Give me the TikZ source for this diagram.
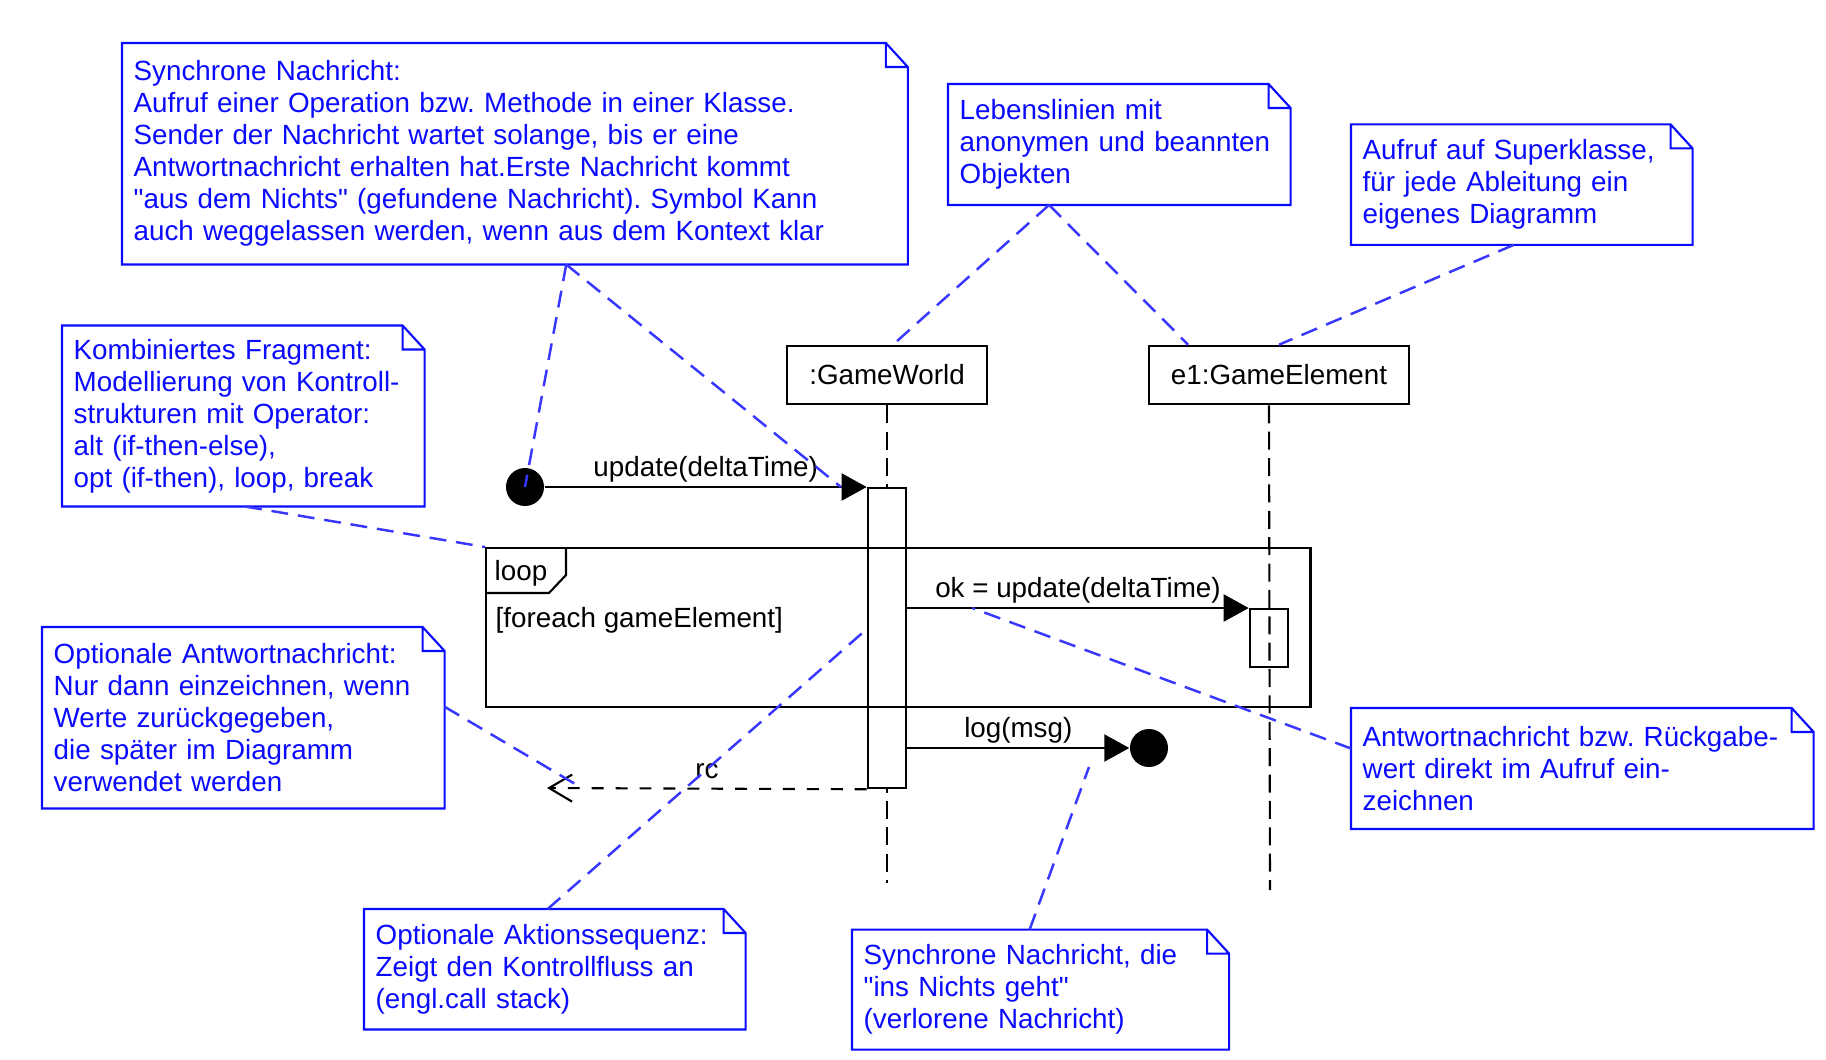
\documentclass[tikz,border=0pt]{standalone}
\usepackage{fontspec}
\setmainfont{Liberation Sans}
\usetikzlibrary{arrows.meta}
\usetikzlibrary{calc, positioning}
\frenchspacing

\definecolor{noteblue}{RGB}{10,10,255}
\definecolor{linkblue}{RGB}{55,55,255}

\begin{document}
\begin{tikzpicture}[x=0.01cm, y=-0.01cm,
    every node/.style={font=\fontsize{7.9}{9.1}\selectfont},
    note/.style={rectangle, anchor=north west, text=noteblue, align=left,
      inner xsep=0.11cm, inner ysep=0pt,
      append after command={\pgfextra{
        \draw[noteblue, line width=0.6pt]
          (\tikzlastnode.north west) -- ($(\tikzlastnode.north east)+(-22,0)$)
          -- ($(\tikzlastnode.north east)+(0,24)$) -- (\tikzlastnode.south east)
          -- (\tikzlastnode.south west) -- cycle
          ($(\tikzlastnode.north east)+(-22,0)$) |- ($(\tikzlastnode.north east)+(0,24)$);
      }}},
    obj/.style={draw, line width=0.6pt, minimum height=0.585cm, inner sep=0pt},
    act/.style={draw, fill=white, line width=0.6pt, minimum width=0.385cm, inner sep=0pt, anchor=north},
    lifeline/.style={line width=0.6pt, dash pattern=on 5.1pt off 2.4pt},
    msg/.style={line width=0.6pt, -{Triangle[length=0.25cm, width=0.27cm]}},
    reply/.style={line width=0.6pt, dash pattern=on 3.4pt off 3.4pt, -{Straight Barb[length=0.23cm, width=0.27cm]}},
    lbl/.style={above, inner sep=1pt, text height=6pt, text depth=1.7pt},
    link/.style={linkblue, line width=0.7pt, dash pattern=on 4.8pt off 2.8pt},
    dot/.style={circle, fill=black, minimum size=0.38cm, inner sep=0pt}]
  \useasboundingbox (0,0) rectangle (1826,1060);

  % objects and lifelines
  \node[obj, minimum width=1.995cm] (gw) at (887,375) {:GameWorld};
  \node[obj, minimum width=2.595cm] (e1) at (1279,375) {e1:GameElement};
  \coordinate (gwend) at (887,883);
  \coordinate (e1end) at (1270,890);

  \draw[lifeline] (gw.south) -- (gwend); % Draws a lifeline
  \node[act, minimum height=3.0cm] (gwact) at (887,487) {};
  \node[act, minimum height=0.58cm] (e1act) at (1269,608) {};
  \draw[lifeline] (e1act.north |- e1.south) -- (e1end); % Draws a lifeline

  % loop fragment
  \node[draw, line width=0.6pt, anchor=north west, minimum width=8.24cm, minimum height=1.59cm, inner sep=0pt] (loopframe) at (485,547) {};
  \draw[line width=0.6pt] ($(loopframe.north west)+(81,0)$) -- ++(0,28) -- ++(-17,18) -- ($(loopframe.north west)+(0,46)$);
  \node[anchor=west, inner sep=0pt] (looptag) at (494,573) {loop};
  \node[anchor=west, inner sep=0pt] (guard) at (495,620) {[foreach gameElement]};

  % messages
  \node[dot] (found) at (525,487) {};
  \node[dot] (lostdot) at (1149,748) {};
  \coordinate (rcend) at (547,788);

  \draw[msg] (found) -- (gwact.north west) node[lbl, midway] {update(deltaTime)} coordinate[pos=0.92] (updpt);
  \draw[msg] (gwact.east |- e1act.north) -- (e1act.north west) node[lbl, midway] {ok = update(deltaTime)} coordinate[pos=0.19] (okpt);
  \draw[msg] (gwact.east |- lostdot) -- (lostdot.west) node[lbl, midway] {log(msg)};
  \draw[reply] (gwact.south west) -- (rcend) node[lbl, midway] {rc} coordinate[pos=0.89] (rcpt);

  % notes
  \node[note, text width=7.62cm, minimum height=2.2cm] (sync) at (122,43) {Synchrone Nachricht:\\
    Aufruf einer Operation bzw. Methode in einer Klasse.\\
    Sender der Nachricht wartet solange, bis er eine\\
    Antwortnachricht erhalten hat.Erste Nachricht kommt\\
    \textquotedbl aus dem Nichts\textquotedbl{} (gefundene Nachricht). Symbol Kann\\
    auch weggelassen werden, wenn aus dem Kontext klar};
  \node[note, text width=3.39cm, minimum height=1.795cm] (frag) at (62,325.5) {Kombiniertes Fragment:\\
    Modellierung von Kontroll-\\
    strukturen mit Operator:\\
    alt (if-then-else),\\
    opt (if-then), loop, break};
  \node[note, text width=3.19cm, minimum height=1.195cm] (life) at (948,84) {Lebenslinien mit\\
    anonymen und beannten\\
    Objekten};
  \node[note, text width=3.18cm, minimum height=1.19cm] (sup) at (1351,124.4) {Aufruf auf Superklasse,\\
    für jede Ableitung ein\\
    eigenes Diagramm};
  \node[note, text width=3.79cm, minimum height=1.8cm] (opt) at (42,627) {Optionale Antwortnachricht:\\
    Nur dann einzeichnen, wenn\\
    Werte zurückgegeben,\\
    die später im Diagramm\\
    verwendet werden};
  \node[note, text width=3.58cm, minimum height=1.19cm] (seq) at (364,909) {Optionale Aktionssequenz:\\
    Zeigt den Kontrollfluss an\\
    (engl.call stack)};
  \node[note, text width=4.39cm, minimum height=1.195cm] (ret) at (1351,708) {Antwortnachricht bzw. Rückgabe-\\
    wert direkt im Aufruf ein-\\
    zeichnen};
  \node[note, text width=3.535cm, minimum height=1.185cm] (lost) at (852,929.6) {Synchrone Nachricht, die\\
    \textquotedbl ins Nichts geht\textquotedbl\\
    (verlorene Nachricht)};

  % note links
  \draw[link] ([xshift=4.44cm]sync.south west) -- (found.center);
  \draw[link] ([xshift=4.44cm]sync.south west) -- (updpt);
  \draw[link] ([xshift=1.83cm]frag.south west) -- (loopframe.north west);
  \draw[link] ([xshift=1.01cm]life.south west) -- ([xshift=0.06cm]gw.north);
  \draw[link] ([xshift=1.01cm]life.south west) -- ([xshift=0.4cm]e1.north west);
  \draw[link] ([xshift=-0.08cm]sup.south) -- (e1.north);
  \draw[link] ([yshift=0.11cm]opt.east) -- (rcpt);
  \draw[link] ([xshift=1.835cm]seq.north west) -- ([yshift=0.09cm]gwact.west);
  \draw[link] ([yshift=0.2cm]ret.west) -- (okpt);
  \draw[link] ([xshift=1.775cm]lost.north west) -- ($(lostdot)+(-60,19)$);
\end{tikzpicture}
\end{document}
